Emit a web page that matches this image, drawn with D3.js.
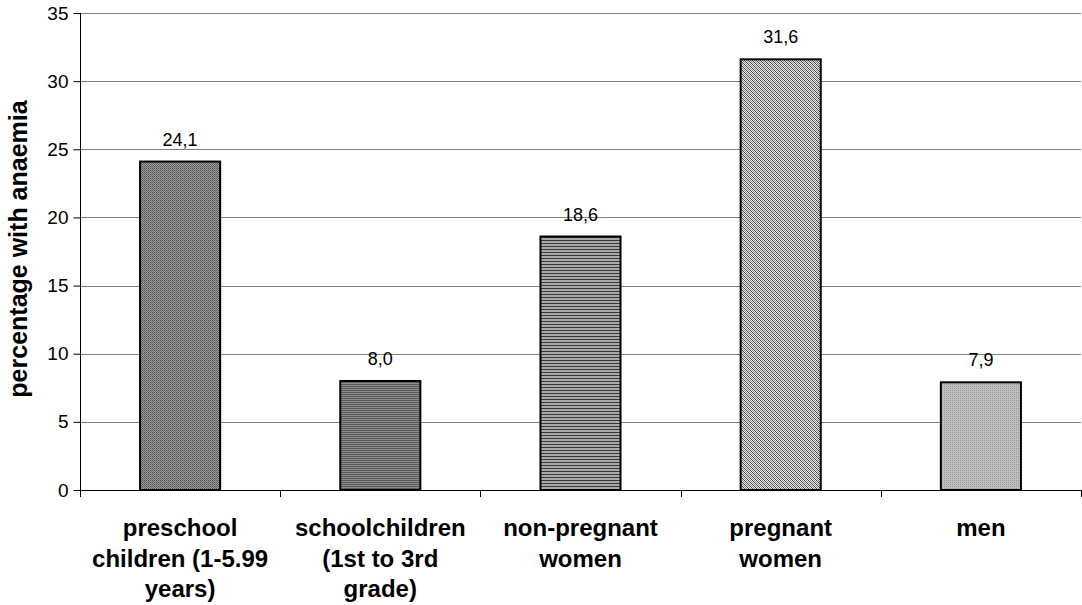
<!DOCTYPE html>
<html><head><meta charset="utf-8">
<script src="https://cdn.jsdelivr.net/npm/d3@7"></script>
<style>body{margin:0;background:#fff}svg{display:block;font-family:"Liberation Sans",Arial,sans-serif}</style>
</head><body><svg id="c" width="1082" height="605"></svg>
<script>
const categories = [["preschool","children (1-5.99","years)"],["schoolchildren","(1st to 3rd","grade)"],["non-pregnant","women"],["pregnant","women"],["men"]];
const values = [24.1, 8.0, 18.6, 31.6, 7.9];
const valueLabels = ["24,1","8,0","18,6","31,6","7,9"];
const yTicks = [0,5,10,15,20,25,30,35];
const patterns = ["p0","p1","p2","p3","p4"];

const svg = d3.select("#c");
const m = {l:80, r:1081, t:13, b:490};
const x = d3.scaleBand().domain(d3.range(values.length)).range([m.l, m.r]).paddingInner(0.6).paddingOuter(0.3);
const y = d3.scaleLinear().domain([0,35]).range([m.b, m.t]);

const defs = svg.append("defs");
let p = defs.append("pattern").attr("id","p0").attr("width",2).attr("height",2).attr("patternUnits","userSpaceOnUse");
p.append("rect").attr("width",2).attr("height",2).attr("fill","#9a9a9a");
p.append("rect").attr("width",1).attr("height",1).attr("fill","#555");
p.append("rect").attr("x",1).attr("y",1).attr("width",1).attr("height",1).attr("fill","#6a6a6a");
p = defs.append("pattern").attr("id","p1").attr("width",2).attr("height",2).attr("patternUnits","userSpaceOnUse");
p.append("rect").attr("width",2).attr("height",2).attr("fill","#8c8c8c");
p.append("rect").attr("width",2).attr("height",1).attr("fill","#5a5a5a");
p = defs.append("pattern").attr("id","p2").attr("width",3).attr("height",3).attr("patternUnits","userSpaceOnUse");
p.append("rect").attr("width",3).attr("height",3).attr("fill","#a8a8a8");
p.append("rect").attr("width",3).attr("height",1).attr("fill","#3a3a3a");
p = defs.append("pattern").attr("id","p3").attr("width",4).attr("height",4).attr("patternUnits","userSpaceOnUse");
p.append("rect").attr("width",4).attr("height",4).attr("fill","#e8e8e8");
[[0,0],[1,1],[2,2],[3,3]].forEach(([a,b])=>p.append("rect").attr("x",a).attr("y",b).attr("width",1).attr("height",1).attr("fill","#444"));
[[2,0],[3,1],[0,2],[1,3]].forEach(([a,b])=>p.append("rect").attr("x",a).attr("y",b).attr("width",1).attr("height",1).attr("fill","#888"));
p = defs.append("pattern").attr("id","p4").attr("width",2).attr("height",2).attr("patternUnits","userSpaceOnUse");
p.append("rect").attr("width",2).attr("height",2).attr("fill","#c0c0c0");
p.append("rect").attr("width",1).attr("height",1).attr("fill","#9a9a9a");

// gridlines
svg.append("g").selectAll("line").data(yTicks.filter(d=>d>0)).join("line")
  .attr("x1",m.l).attr("x2",m.r).attr("y1",d=>Math.round(y(d))+0.5).attr("y2",d=>Math.round(y(d))+0.5)
  .attr("stroke","#808080").attr("stroke-width",1);

// y axis
const ya = svg.append("g").attr("transform",`translate(${m.l+0.5},0)`)
  .call(d3.axisLeft(y).tickValues(yTicks).tickSize(7).tickPadding(5).tickFormat(d3.format("d")));
ya.select(".domain").attr("stroke","#000").attr("d",`M0,${m.t}V${m.b}`);
ya.selectAll(".tick line").attr("stroke","#000");
ya.selectAll(".tick text").attr("font-size",19).attr("fill","#000").attr("font-family","Liberation Sans, Arial, sans-serif");

// bars
svg.append("g").selectAll("rect").data(values).join("rect")
  .attr("x",(d,i)=>x(i)).attr("width",x.bandwidth())
  .attr("y",d=>y(d)).attr("height",d=>y(0)-y(d))
  .attr("fill",(d,i)=>`url(#${patterns[i]})`).attr("stroke","#000").attr("stroke-width",2);

// x axis
const step = (m.r-m.l)/values.length;
const xa = svg.append("g");
xa.append("line").attr("x1",m.l).attr("x2",m.r).attr("y1",m.b+0.5).attr("y2",m.b+0.5).attr("stroke","#000");
xa.selectAll("line.t").data(d3.range(values.length+1)).join("line").attr("class","t")
  .attr("x1",i=>Math.round(m.l+i*step)+0.5).attr("x2",i=>Math.round(m.l+i*step)+0.5)
  .attr("y1",m.b).attr("y2",m.b+7).attr("stroke","#000");

// value labels
svg.append("g").selectAll("text").data(values).join("text")
  .attr("x",(d,i)=>x(i)+x.bandwidth()/2).attr("y",d=>y(d)-16)
  .attr("text-anchor","middle").attr("font-size",18).attr("fill","#000")
  .text((d,i)=>valueLabels[i]);

// category labels
const cg = svg.append("g").selectAll("text").data(categories).join("text")
  .attr("x",(d,i)=>x(i)+x.bandwidth()/2).attr("y",536)
  .attr("text-anchor","middle").attr("font-size",24).attr("font-weight","bold").attr("fill","#000");
cg.selectAll("tspan").data(d=>d).join("tspan")
  .attr("x",function(){return d3.select(this.parentNode).attr("x");})
  .attr("dy",(d,j)=>j===0?0:30.5).text(d=>d);

// y title
svg.append("text").attr("transform",`translate(27,249) rotate(-90)`)
  .attr("text-anchor","middle").attr("font-size",25).attr("font-weight","bold").text("percentage with anaemia");
</script></body></html>
